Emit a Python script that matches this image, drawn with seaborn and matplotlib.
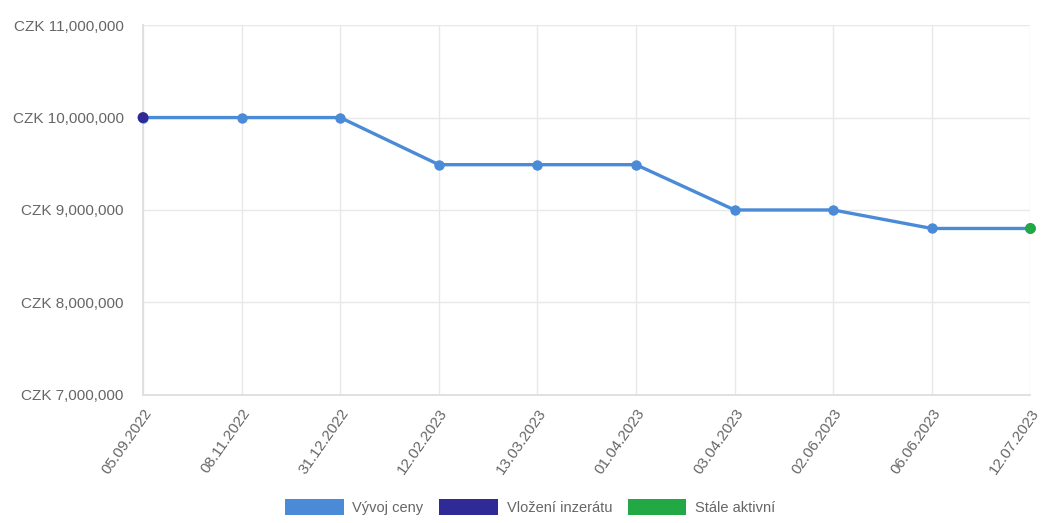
import matplotlib
matplotlib.use("Agg")
import matplotlib.pyplot as plt
import matplotlib.ticker as mticker
from matplotlib.patches import Patch
import seaborn as sns
import pandas as pd

dates = ["05.09.2022", "08.11.2022", "31.12.2022", "12.02.2023", "13.03.2023",
         "01.04.2023", "03.04.2023", "02.06.2023", "06.06.2023", "12.07.2023"]
prices = [10000000, 10000000, 10000000, 9490000, 9490000,
          9490000, 9000000, 9000000, 8800000, 8800000]
legend_labels = ["Vývoj ceny", "Vložení inzerátu", "Stále aktivní"]

line_color = "#4a8ad6"
start_color = "#2f2a96"
end_color = "#22a845"

sns.set_theme(style="whitegrid")
plt.rcParams['font.family'] = ['Liberation Sans', 'DejaVu Sans']

df = pd.DataFrame({"idx": range(len(dates)), "date": dates, "price": prices})

fig = plt.figure(figsize=(10.44, 5.23), dpi=100)
ax = fig.add_axes([0.137, 0.245, 0.85, 0.707])

sns.lineplot(data=df, x="idx", y="price", ax=ax, color=line_color, linewidth=2.4,
             marker="o", markersize=7.5, markeredgewidth=0, zorder=3)
sns.scatterplot(data=df.iloc[[0]], x="idx", y="price", ax=ax, color=start_color,
                s=62, edgecolor="none", zorder=4, clip_on=False)
sns.scatterplot(data=df.iloc[[-1]], x="idx", y="price", ax=ax, color=end_color,
                s=62, edgecolor="none", zorder=4, clip_on=False)
for ln in ax.lines:
    ln.set_clip_on(False)

ax.set_xlim(0, len(dates) - 1)
ax.set_ylim(7000000, 11000000)
ax.yaxis.set_major_locator(mticker.MultipleLocator(1000000))
ax.yaxis.set_major_formatter(mticker.FuncFormatter(lambda v, p: f"CZK {int(v):,}"))
ax.set_xticks(range(len(dates)))
ax.set_xticklabels(dates, rotation=55, ha="right", rotation_mode="anchor")
ax.set_xlabel("")
ax.set_ylabel("")
ax.tick_params(axis="y", colors="#666666", labelsize=11, length=0, pad=14)
ax.tick_params(axis="x", colors="#666666", labelsize=11, length=6,
               color="#e6e6e6", pad=2)
ax.grid(True, color="#e8e8e8", linewidth=1)
for s in ax.spines.values():
    s.set_visible(False)
ax.spines["left"].set_visible(True)
ax.spines["left"].set_color("#dddddd")
ax.spines["bottom"].set_visible(True)
ax.spines["bottom"].set_color("#dddddd")

handles = [Patch(facecolor=line_color, edgecolor="none"),
           Patch(facecolor=start_color, edgecolor="none"),
           Patch(facecolor=end_color, edgecolor="none")]
fig.legend(handles, legend_labels, loc="lower center", bbox_to_anchor=(0.508, -0.01),
           ncol=3, frameon=False, fontsize=10.5, handlelength=4.0, handleheight=1.3,
           columnspacing=1.1, handletextpad=0.6, labelcolor="#666666")

fig.savefig("out.png", dpi=100, facecolor="white")
